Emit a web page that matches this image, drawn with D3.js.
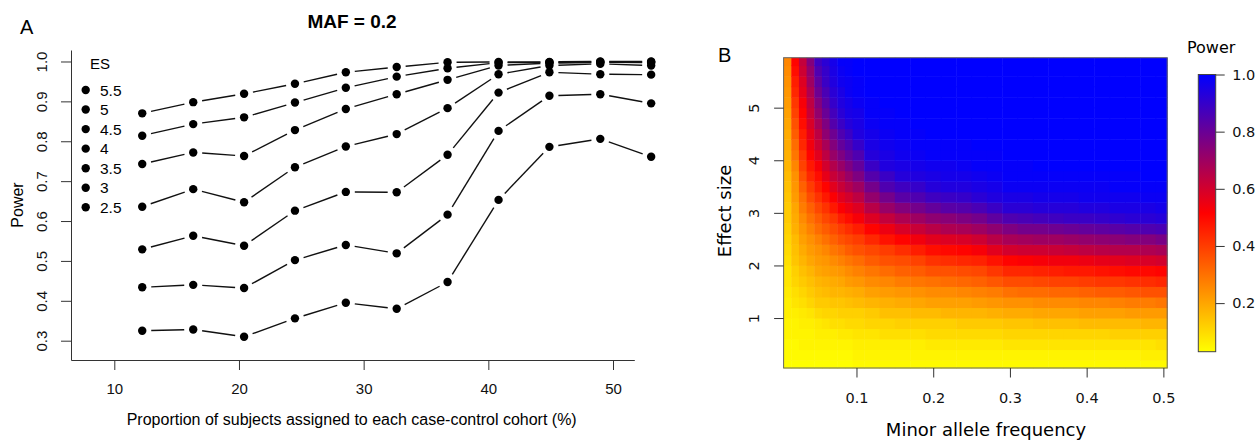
<!DOCTYPE html>
<html>
<head>
<meta charset="utf-8">
<script src="https://cdn.jsdelivr.net/npm/d3@7"></script>
<style>
  body { margin: 0; background: #fff; }
  svg { display: block; }
</style>
</head>
<body>
<svg id="chart" width="1260" height="440"></svg>
<script>
// ---- panel A data: power vs proportion of subjects per cohort (MAF = 0.2) ----
const propX = [12.24, 16.33, 20.41, 24.49, 28.57, 32.65, 36.73, 40.82, 44.90, 48.98, 53.06];
const esLabels = ["5.5", "5", "4.5", "4", "3.5", "3", "2.5"];
const powerES55 = [0.870, 0.898, 0.919, 0.944, 0.973, 0.986, 0.998, 0.999, 0.999, 1.000, 1.000];
const powerES50 = [0.814, 0.843, 0.860, 0.897, 0.934, 0.962, 0.983, 0.997, 0.998, 0.999, 0.999];
const powerES45 = [0.743, 0.772, 0.763, 0.828, 0.881, 0.918, 0.954, 0.990, 0.996, 0.998, 0.997];
const powerES40 = [0.636, 0.680, 0.647, 0.735, 0.787, 0.818, 0.883, 0.968, 0.990, 0.994, 0.990];
const powerES35 = [0.529, 0.563, 0.538, 0.626, 0.673, 0.672, 0.766, 0.922, 0.973, 0.968, 0.967];
const powerES30 = [0.434, 0.440, 0.432, 0.502, 0.540, 0.519, 0.616, 0.826, 0.914, 0.918, 0.895];
const powerES25 = [0.325, 0.328, 0.310, 0.356, 0.395, 0.380, 0.447, 0.653, 0.786, 0.806, 0.761];
const seriesA = [powerES55, powerES50, powerES45, powerES40, powerES35, powerES30, powerES25];
const propTicks = [10, 20, 30, 40, 50];
const powerTicks = [0.3, 0.4, 0.5, 0.6, 0.7, 0.8, 0.9, 1.0];

// ---- panel B data: power (%) by minor allele frequency (one list per column) and effect size (rows) ----
const mafValues = [0.01, 0.02, 0.03, 0.04, 0.05, 0.06, 0.07, 0.08, 0.09, 0.10,
                   0.12, 0.14, 0.16, 0.18, 0.20, 0.22, 0.24, 0.26, 0.28, 0.30,
                   0.32, 0.34, 0.36, 0.38, 0.40, 0.42, 0.44, 0.46, 0.48, 0.50];
const esValues = [0.1, 0.3, 0.5, 0.7, 0.9, 1.1, 1.3, 1.5, 1.7, 1.9,
                  2.1, 2.3, 2.5, 2.7, 2.9, 3.1, 3.3, 3.5, 3.7, 3.9,
                  4.1, 4.3, 4.5, 4.7, 4.9, 5.1, 5.3, 5.5, 5.7, 5.9];
const powerPct = [
  [3,4,4,5,5,6,6,7,8,8, 9,10,11,12,13,13,14,15,16,17, 18,19,19,20,21,22,23,24,25,26],          // 0.01
  [3,4,4,5,5,6,8,9,11,12, 14,15,16,18,19,20,22,23,24,26, 29,31,34,36,39,41,44,46,49,51],       // 0.02
  [3,4,5,5,6,7,9,11,13,15, 17,19,21,23,25,28,30,33,36,39, 41,44,46,49,51,53,56,58,61,63],      // 0.03
  [3,4,5,5,6,8,11,13,15,17, 20,22,24,27,30,33,37,40,44,47, 51,54,56,59,62,64,67,70,72,75],     // 0.04
  [3,4,5,6,7,10,13,15,17,20, 22,24,27,31,34,38,42,46,49,53, 57,61,64,68,72,75,79,82,85,88],    // 0.05
  [3,4,5,6,8,11,13,16,18,21, 23,26,30,34,38,42,47,51,56,60, 64,68,73,76,80,83,86,89,90,92],    // 0.06
  [3,4,5,6,9,11,14,17,19,22, 25,29,33,37,41,47,52,57,62,66, 71,75,79,84,87,90,92,94,95,96],    // 0.07
  [3,4,5,7,9,12,14,17,20,23, 27,31,36,40,46,52,57,62,66,71, 76,81,85,89,92,94,95,97,98,99],    // 0.08
  [3,4,5,7,10,12,15,18,22,25, 29,34,38,43,49,55,60,66,71,76, 81,85,89,93,95,96,98,98,99,99],   // 0.09
  [4,5,6,8,10,12,16,19,23,27, 31,36,40,46,53,58,64,70,76,81, 85,90,94,95,96,98,99,99,100,100], // 0.10
  [4,5,6,8,11,13,17,21,25,29, 34,38,44,51,58,65,72,78,84,89, 93,95,96,98,99,99,100,100,100,100], // 0.12
  [4,5,6,9,11,15,18,22,26,31, 36,40,48,55,63,71,78,85,89,94, 95,97,98,99,99,100,100,100,100,100], // 0.14
  [4,5,6,9,12,15,19,23,28,33, 37,43,51,59,67,75,83,88,93,95, 97,98,99,99,100,100,100,100,100,100], // 0.16
  [4,5,6,9,12,16,20,24,29,34, 39,46,54,62,70,78,85,90,94,96, 98,99,99,100,100,100,100,100,100,100], // 0.18
  [4,5,7,10,12,16,21,25,30,36, 42,49,57,65,73,81,88,93,95,97, 99,99,100,100,100,100,100,100,100,100], // 0.20
  [4,5,7,10,12,17,21,25,31,36, 43,50,58,67,74,83,89,94,96,97, 99,99,100,100,100,100,100,100,100,100], // 0.22
  [4,5,7,10,13,17,21,26,32,37, 44,51,59,68,76,84,90,94,96,98, 99,99,100,100,100,100,100,100,100,100], // 0.24
  [4,5,7,10,13,17,22,27,33,38, 45,53,61,70,78,86,92,95,97,99, 99,100,100,100,100,100,100,100,100,100], // 0.26
  [4,5,7,10,13,18,23,28,35,41, 48,57,65,73,82,89,94,96,98,99, 99,100,100,100,100,100,100,100,100,100], // 0.28
  [4,5,8,11,14,19,24,30,37,44, 51,60,68,76,85,92,95,98,99,99, 100,100,100,100,100,100,100,100,100,100], // 0.30
  [4,5,8,11,14,19,24,31,37,44, 52,61,69,78,86,92,95,98,99,99, 100,100,100,100,100,100,100,100,100,100], // 0.32
  [4,5,8,11,15,20,25,31,38,45, 53,61,70,78,87,93,96,98,99,100, 100,100,100,100,100,100,100,100,100,100], // 0.34
  [4,5,8,11,15,20,25,32,39,46, 54,62,70,79,88,93,96,98,99,100, 100,100,100,100,100,100,100,100,100,100], // 0.36
  [4,5,8,11,15,20,25,32,39,47, 54,63,71,80,89,93,96,98,99,100, 100,100,100,100,100,100,100,100,100,100], // 0.38
  [4,5,8,11,16,21,26,33,40,47, 55,64,72,81,89,94,97,98,99,100, 100,100,100,100,100,100,100,100,100,100], // 0.40
  [4,5,8,11,16,21,26,34,41,48, 56,65,73,82,90,94,97,98,99,100, 100,100,100,100,100,100,100,100,100,100], // 0.42
  [4,5,8,12,16,21,27,34,41,49, 57,66,74,83,91,95,97,99,99,100, 100,100,100,100,100,100,100,100,100,100], // 0.44
  [4,5,8,12,16,22,28,35,42,50, 58,66,75,84,92,95,97,99,99,100, 100,100,100,100,100,100,100,100,100,100], // 0.46
  [4,6,8,12,17,22,28,36,43,50, 59,67,75,85,92,95,98,99,100,100, 100,100,100,100,100,100,100,100,100,100], // 0.48
  [4,6,9,12,17,22,29,36,44,51, 60,68,77,86,93,96,98,99,100,100, 100,100,100,100,100,100,100,100,100,100]  // 0.50
];
const mafTicks = [0.1, 0.2, 0.3, 0.4, 0.5];
const esTicks = [1, 2, 3, 4, 5];
const legendTicks = [0.2, 0.4, 0.6, 0.8, 1.0];

const fontA = "'Liberation Sans', Arial, Helvetica, sans-serif";
const fontB = "'DejaVu Sans', Verdana, sans-serif";
const svg = d3.select("#chart");

// =================== panel A ===================
const xA = d3.scaleLinear().domain([6.527, 51.708]).range([71, 634.3]);
const yA = d3.scaleLinear().domain([0.2516, 1.0288]).range([360, 50]);

svg.append("text").attr("x", 20).attr("y", 34.3)
   .attr("font-family", fontA).attr("font-size", 20).text("A");
svg.append("text").attr("x", 352).attr("y", 28.3).attr("text-anchor", "middle")
   .attr("font-family", fontA).attr("font-size", 19).attr("font-weight", "bold").text("MAF = 0.2");

var gy = svg.append("g").attr("transform", "translate(71,0)")
    .call(d3.axisLeft(yA).tickValues(powerTicks).tickFormat(d3.format(".1f")).tickSize(10).tickSizeOuter(0));
gy.attr("font-family", fontA).attr("font-size", 15);
gy.selectAll("line, path").attr("stroke", "#333");
gy.selectAll("text").attr("x", 0).attr("dy", "0.35em").attr("text-anchor", "middle")
  .attr("fill", "#111").attr("transform", "translate(-29.3,0) rotate(-90)");

var gx = svg.append("g").attr("transform", "translate(0,360)")
    .call(d3.axisBottom(xA).tickValues(propTicks).tickSize(10).tickSizeOuter(0));
gx.attr("font-family", fontA).attr("font-size", 15);
gx.selectAll("line, path").attr("stroke", "#333");
gx.selectAll("text").attr("y", 29).attr("dy", "0.35em").attr("fill", "#111");

svg.append("text").attr("x", 351.7).attr("y", 425).attr("text-anchor", "middle")
   .attr("font-family", fontA).attr("font-size", 16)
   .text("Proportion of subjects assigned to each case-control cohort (%)");
svg.append("text").attr("transform", "translate(17,205) rotate(-90)")
   .attr("text-anchor", "middle").attr("dy", "0.35em")
   .attr("font-family", fontA).attr("font-size", 16).text("Power");

// lines with gaps around the points (type "b")
var gap = 9;
var gLines = svg.append("g").attr("stroke", "#111").attr("stroke-width", 1.4);
seriesA.forEach(function(vals) {
    for (var i = 0; i < vals.length - 1; i++) {
        var x0 = xA(propX[i]), y0 = yA(vals[i]);
        var x1 = xA(propX[i + 1]), y1 = yA(vals[i + 1]);
        var len = Math.hypot(x1 - x0, y1 - y0);
        if (len <= 2 * gap) continue;
        var ux = (x1 - x0) / len, uy = (y1 - y0) / len;
        gLines.append("line")
            .attr("x1", x0 + ux * gap).attr("y1", y0 + uy * gap)
            .attr("x2", x1 - ux * gap).attr("y2", y1 - uy * gap);
    }
});
var gPts = svg.append("g").attr("fill", "#000");
seriesA.forEach(function(vals) {
    gPts.selectAll(null).data(vals).enter().append("circle")
        .attr("cx", function(d, i) { return xA(propX[i]); })
        .attr("cy", function(d) { return yA(d); })
        .attr("r", 4.2);
});

// legend
var legA = svg.append("g").attr("font-family", fontA).attr("font-size", 15.5);
legA.append("text").attr("x", 90).attr("y", 69.3).attr("font-size", 15).text("ES");
esLabels.forEach(function(lab, i) {
    var cy = 90 + i * 19.55;
    legA.append("circle").attr("cx", 85.7).attr("cy", cy).attr("r", 4.2);
    legA.append("text").attr("x", 100).attr("y", cy).attr("dy", "0.36em").text(lab);
});

// =================== panel B ===================
const xB = d3.scaleLinear().domain([0.005, 0.505]).range([783.6, 1167.2]);
const yB = d3.scaleLinear().domain([0.05, 5.95]).range([368, 57.7]);
const color = d3.scaleLinear().domain([0.03, 0.515, 1.0])
    .range(["#ffff00", "#ff0000", "#0000ff"]).clamp(true);

svg.append("text").attr("x", 718).attr("y", 62.3)
   .attr("font-family", fontA).attr("font-size", 20).text("B");

function edges(vals, halfLo, halfHi) {
    return vals.map(function(v, i) {
        var lo = i === 0 ? v - halfLo : (vals[i - 1] + v) / 2;
        var hi = i === vals.length - 1 ? v + halfHi : (v + vals[i + 1]) / 2;
        return [lo, hi];
    });
}
var mafEdges = edges(mafValues, 0.005, 0.005);
var esEdges = edges(esValues, 0.05, 0.05);

var cells = [];
mafValues.forEach(function(m, j) {
    esValues.forEach(function(e, i) {
        cells.push({ x: mafEdges[j], y: esEdges[i], v: powerPct[j][i] / 100 });
    });
});
svg.append("g").selectAll("rect").data(cells).enter().append("rect")
    .attr("x", function(d) { return xB(d.x[0]); })
    .attr("width", function(d) { return xB(d.x[1]) - xB(d.x[0]) + 0.5; })
    .attr("y", function(d) { return yB(d.y[1]); })
    .attr("height", function(d) { return yB(d.y[0]) - yB(d.y[1]) + 0.5; })
    .attr("fill", function(d) { return color(d.v); });

svg.append("rect")
    .attr("x", xB(0.005)).attr("y", yB(5.95))
    .attr("width", xB(0.505) - xB(0.005)).attr("height", yB(0.05) - yB(5.95))
    .attr("fill", "none").attr("stroke", "#666").attr("stroke-width", 1);

var gbx = svg.append("g").attr("transform", "translate(0,368)")
    .call(d3.axisBottom(xB).tickValues(mafTicks).tickFormat(d3.format(".1f")).tickSize(9.5));
gbx.select(".domain").remove();
gbx.attr("font-family", fontB).attr("font-size", 14.5);
gbx.selectAll("line").attr("stroke", "#333");
gbx.selectAll("text").attr("y", 29.3).attr("dy", "0.36em").attr("fill", "#111");

var gby = svg.append("g").attr("transform", "translate(783.6,0)")
    .call(d3.axisLeft(yB).tickValues(esTicks).tickFormat(d3.format("d")).tickSize(9.5));
gby.select(".domain").remove();
gby.attr("font-family", fontB).attr("font-size", 14.5);
gby.selectAll("line").attr("stroke", "#333");
gby.selectAll("text").attr("x", 0).attr("dy", "0.36em").attr("text-anchor", "middle")
   .attr("fill", "#111").attr("transform", "translate(-29.6,0) rotate(-90)");

svg.append("text").attr("x", 986).attr("y", 435.5).attr("text-anchor", "middle")
   .attr("font-family", fontB).attr("font-size", 18).text("Minor allele frequency");
svg.append("text").attr("transform", "translate(725,211) rotate(-90)")
   .attr("text-anchor", "middle").attr("dy", "0.36em")
   .attr("font-family", fontB).attr("font-size", 18).text("Effect size");

// colour legend
const legY = d3.scaleLinear().domain([0.03, 1.0]).range([351.7, 74.5]);
var grad = svg.append("defs").append("linearGradient").attr("id", "powerGrad")
    .attr("x1", 0).attr("y1", 1).attr("x2", 0).attr("y2", 0);
color.domain().forEach(function(d) {
    grad.append("stop").attr("offset", (d - 0.03) / 0.97).attr("stop-color", color(d));
});
svg.append("rect").attr("x", 1198.3).attr("width", 17.4)
    .attr("y", legY(1.0)).attr("height", legY(0.03) - legY(1.0))
    .attr("fill", "url(#powerGrad)").attr("stroke", "#444").attr("stroke-width", 1);
var gl = svg.append("g").attr("transform", "translate(1215.7,0)")
    .call(d3.axisRight(legY).tickValues(legendTicks).tickFormat(d3.format(".1f")).tickSize(9));
gl.select(".domain").remove();
gl.attr("font-family", fontB).attr("font-size", 14.5);
gl.selectAll("line").attr("stroke", "#333");
gl.selectAll("text").attr("x", 16.5).attr("fill", "#111");
svg.append("text").attr("x", 1187).attr("y", 52.5)
   .attr("font-family", fontB).attr("font-size", 16).text("Power");
</script>
</body>
</html>
